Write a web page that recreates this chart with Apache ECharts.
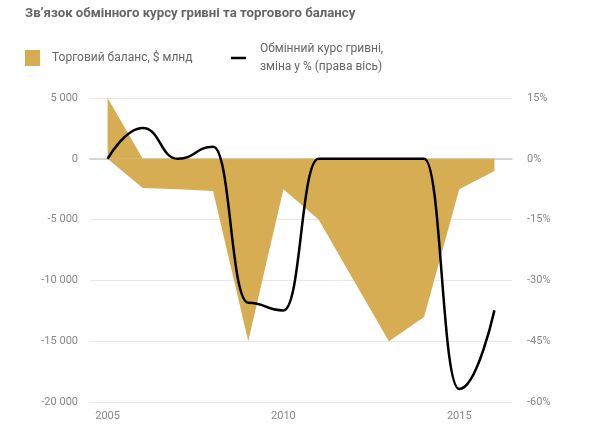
<!DOCTYPE html>
<html>
<head>
<meta charset="utf-8">
<script src="https://cdn.jsdelivr.net/npm/echarts@6/dist/echarts.min.js"></script>
<style>
    html, body { margin: 0; padding: 0; background: #fff; }
    #main { width: 600px; height: 438px; }
</style>
</head>
<body>
<div id="main"></div>
<script>
    // дані
    const years = ['2005', '2006', '2007', '2008', '2009', '2010', '2011', '2012', '2013', '2014', '2015', '2016'];
    // торговий баланс, верхній і нижній край заливки
    const balanceUpper = [5000, 0, 0, 0, 0, 0, 0, 0, 0, 0, 0, 0];
    const balanceLower = [0, -2400, -2500, -2650, -15000, -2500, -5000, -10000, -15000, -13000, -2500, -1000];
    // зміна курсу гривні, %
    const rateChange = [0, 7.6, 0, 3, -35.5, -37.4, 0, 0, 0, 0, -56.8, -37.4];
    const leftTicks = { min: -20000, max: 5000, interval: 5000 };
    const rightTicks = { min: -60, max: 15, interval: 15 };

    const balanceName = 'Торговий баланс, $ млнд';
    const rateName = 'Обмінний курс гривні,\nзміна у % (права вісь)';
    const gold = '#d6ad52';
    const labelColor = '#888';
    const font = 'Roboto';

    function spaced(v) {
        return String(v).replace(/\B(?=(\d{3})+(?!\d))/g, ' ');
    }

    const chart = echarts.init(document.getElementById('main'));
    chart.setOption({
        animation: false,
        title: {
            text: 'Зв\u2019язок обмінного курсу гривні та торгового балансу',
            left: 25,
            top: 7,
            padding: 0,
            textStyle: { fontFamily: font, fontSize: 13.2, fontWeight: 'bold', color: '#666' }
        },
        legend: [
            {
                data: [{ name: balanceName, icon: 'rect' }],
                left: 25,
                top: 49,
                padding: 0,
                itemWidth: 15,
                itemHeight: 16,
                textStyle: { fontFamily: font, fontSize: 12, color: '#666', lineHeight: 18, padding: [0, 0, 0, 7] }
            },
            {
                data: [{ name: rateName, icon: 'rect' }],
                left: 231,
                top: 31,
                padding: 0,
                itemWidth: 15,
                itemHeight: 2.5,
                textStyle: { fontFamily: font, fontSize: 12, color: '#666', lineHeight: 18, padding: [18, 0, 0, 9] }
            }
        ],
        grid: { left: 90, right: 88, top: 98, bottom: 36 },
        xAxis: {
            type: 'category',
            data: years,
            boundaryGap: true,
            axisLine: { lineStyle: { color: '#ccc', width: 1.5 } },
            axisTick: { alignWithLabel: true, interval: 0, length: 8, lineStyle: { color: '#ccc', width: 1.5 } },
            axisLabel: {
                interval: (i, v) => Number(v) % 5 === 0,
                color: labelColor,
                fontFamily: font,
                fontSize: 11,
                margin: 9
            }
        },
        yAxis: [
            {
                type: 'value',
                min: leftTicks.min,
                max: leftTicks.max,
                interval: leftTicks.interval,
                axisLine: { show: false },
                axisTick: { show: false },
                splitLine: { lineStyle: { color: '#e8e8e8' } },
                axisLabel: { color: labelColor, fontFamily: font, fontSize: 11, margin: 12, formatter: spaced }
            },
            {
                type: 'value',
                min: rightTicks.min,
                max: rightTicks.max,
                interval: rightTicks.interval,
                axisLine: { show: false },
                axisTick: { show: false },
                splitLine: { show: false },
                axisLabel: { color: labelColor, fontFamily: font, fontSize: 11, margin: 15, formatter: '{value}%' }
            }
        ],
        series: [
            {
                name: balanceName,
                type: 'line',
                data: balanceUpper,
                symbol: 'none',
                itemStyle: { color: gold },
                lineStyle: { width: 0 },
                areaStyle: { color: gold, opacity: 1 }
            },
            {
                name: balanceName,
                type: 'line',
                data: balanceLower,
                symbol: 'none',
                itemStyle: { color: gold },
                lineStyle: { width: 0 },
                areaStyle: { color: gold, opacity: 1 }
            },
            {
                name: rateName,
                type: 'line',
                yAxisIndex: 1,
                data: rateChange,
                symbol: 'none',
                smooth: 0.5,
                smoothMonotone: 'x',
                z: 5,
                itemStyle: { color: '#000' },
                lineStyle: { color: '#000', width: 2.5 }
            }
        ]
    });
</script>
</body>
</html>
